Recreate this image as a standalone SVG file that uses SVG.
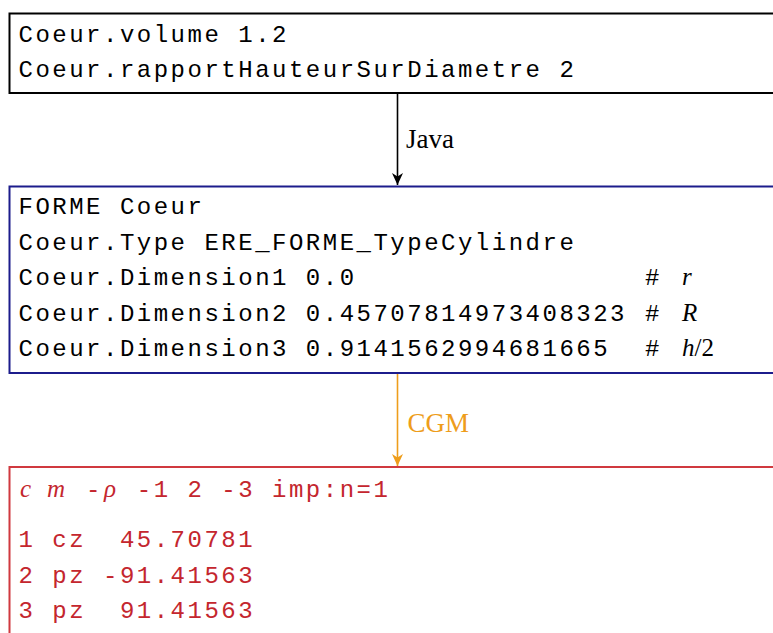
<svg xmlns="http://www.w3.org/2000/svg" width="773" height="633" viewBox="0 0 773 633">
<style>
.mono{font-family:"Liberation Mono","Courier New",monospace;font-size:24px;letter-spacing:2.5px}
.math{font-family:"Liberation Serif","Times New Roman",serif;font-style:italic;font-size:25px}
.rm{font-family:"Liberation Serif","Times New Roman",serif;font-size:25px}
.lbl{font-family:"Liberation Serif","Times New Roman",serif;font-size:27px}
.box{fill:#fff;stroke-width:2}
</style>
<defs>
<marker id="ahK" viewBox="0 0 12 12" refX="12" refY="6" markerWidth="12" markerHeight="12" markerUnits="userSpaceOnUse" orient="auto">
<path d="M0,0.5 L12,6 L0,11.5 L3.5,6 Z" fill="#000"/>
</marker>
<marker id="ahO" viewBox="0 0 12 12" refX="12" refY="6" markerWidth="12" markerHeight="12" markerUnits="userSpaceOnUse" orient="auto">
<path d="M0,0.5 L12,6 L0,11.5 L3.5,6 Z" fill="#EE9D1B"/>
</marker>
</defs>
<rect width="773" height="633" fill="#fff"/>
<g id="connectors">
<line x1="397.5" y1="93" x2="397.5" y2="185" stroke="#000" stroke-width="1.6" marker-end="url(#ahK)"/>
<text class="lbl" x="406" y="148" fill="#000">Java</text>
<line x1="397.5" y1="373" x2="397.5" y2="466" stroke="#EE9D1B" stroke-width="1.6" marker-end="url(#ahO)"/>
<text class="lbl" x="407.5" y="432" fill="#EE9D1B">CGM</text>
</g>
<g id="node-input">
<rect class="box" x="9.5" y="13.5" width="800" height="79.5" stroke="#000"/>
<text class="mono" x="18.5" y="41.5" fill="#000">Coeur.volume 1.2</text>
<text class="mono" x="18.5" y="77" fill="#000">Coeur.rapportHauteurSurDiametre 2</text>
</g>
<g id="node-forme">
<rect class="box" x="9.5" y="186.5" width="800" height="186.5" stroke="#1C1C8C"/>
<text class="mono" x="18.5" y="214" fill="#000">FORME Coeur</text>
<text class="mono" x="18.5" y="249.5" fill="#000">Coeur.Type ERE_FORME_TypeCylindre</text>
<text class="mono" x="18.5" y="285" fill="#000">Coeur.Dimension1 0.0</text>
<text class="mono" x="645" y="285" fill="#000">#</text>
<text class="math" x="682" y="285" fill="#000">r</text>
<text class="mono" x="18.5" y="320.5" fill="#000">Coeur.Dimension2 0.45707814973408323</text>
<text class="mono" x="645" y="320.5" fill="#000">#</text>
<text class="math" x="682" y="320.5" fill="#000">R</text>
<text class="mono" x="18.5" y="356" fill="#000">Coeur.Dimension3 0.9141562994681665</text>
<text class="mono" x="645" y="356" fill="#000">#</text>
<text x="682" y="356" fill="#000"><tspan class="math">h</tspan><tspan class="rm">/2</tspan></text>
</g>
<g id="node-mcnp">
<rect class="box" x="9.5" y="467" width="800" height="200" stroke="#D0393F"/>
<text class="math" x="20" y="497" fill="#C4262E">c</text>
<text class="math" x="47" y="497" fill="#C4262E">m</text>
<text class="mono" x="86" y="497" fill="#C4262E">-</text>
<text class="math" x="104" y="497" fill="#C4262E">ρ</text>
<text class="mono" x="136.8" y="497" fill="#C4262E">-1 2 -3 imp:n=1</text>
<text class="mono" x="18.5" y="547" fill="#C4262E" xml:space="preserve">1 cz  45.70781</text>
<text class="mono" x="18.5" y="582.5" fill="#C4262E">2 pz -91.41563</text>
<text class="mono" x="18.5" y="618" fill="#C4262E" xml:space="preserve">3 pz  91.41563</text>
</g>
</svg>
